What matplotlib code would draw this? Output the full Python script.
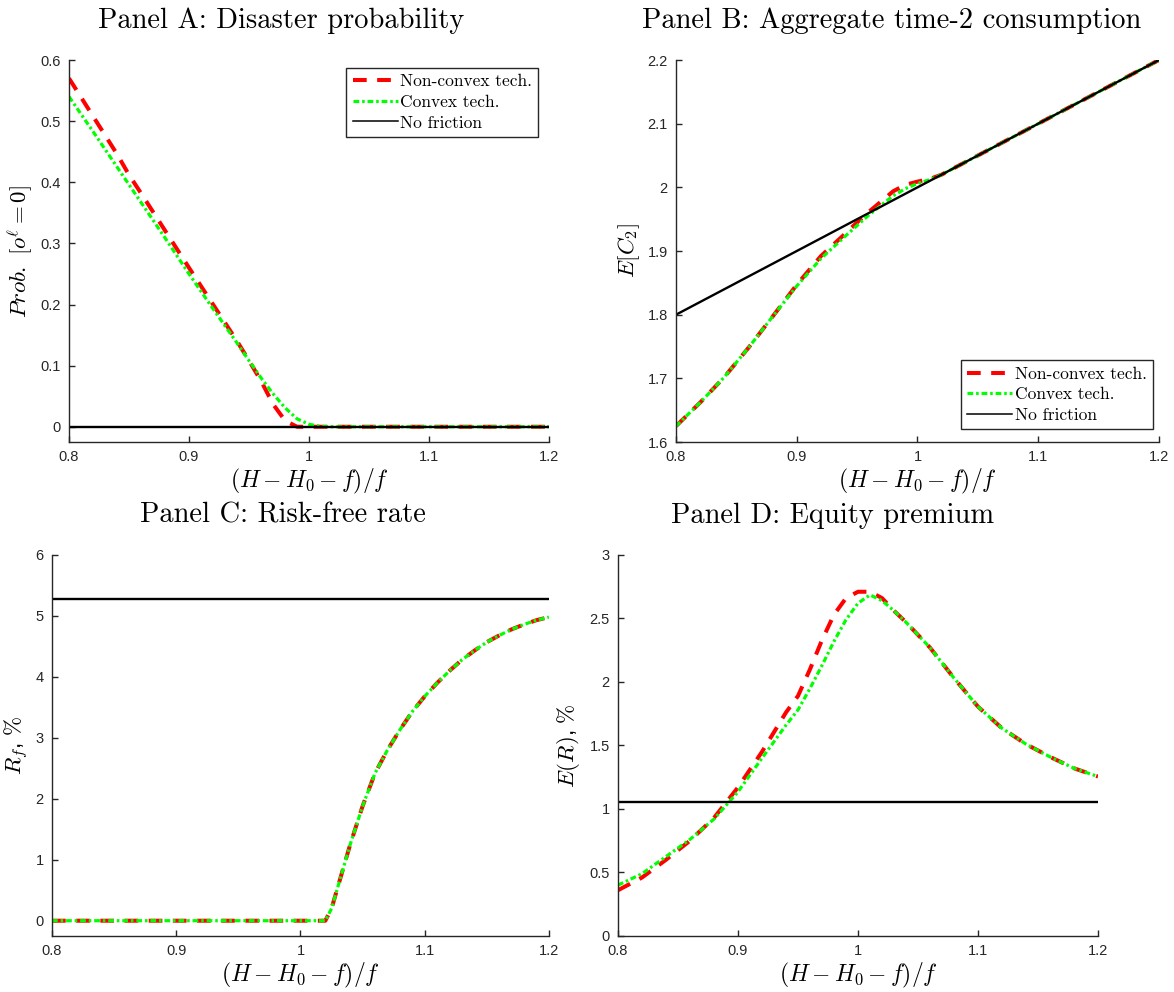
import matplotlib
matplotlib.use("Agg")
import matplotlib.pyplot as plt
from matplotlib.lines import Line2D

plt.rcParams["mathtext.fontset"] = "cm"
plt.rcParams["font.family"] = ["Liberation Sans", "DejaVu Sans"]

# ---------------- data ----------------
# Panel A: disaster probability
xa = [0.80, 0.82, 0.84, 0.85, 0.86, 0.88, 0.90, 0.92, 0.94, 0.95, 0.96, 0.97,
      0.98, 0.99, 1.00, 1.01, 1.02, 1.05, 1.10, 1.15, 1.20]
a_nonconvex = [0.570, 0.508, 0.446, 0.412, 0.382, 0.321, 0.260, 0.200, 0.140,
               0.108, 0.075, 0.037, 0.010, 0.000, 0.000, 0.000, 0.000, 0.000,
               0.000, 0.000, 0.000]
a_convex = [0.540, 0.483, 0.425, 0.396, 0.367, 0.309, 0.250, 0.193, 0.137,
            0.108, 0.080, 0.054, 0.031, 0.013, 0.004, 0.0005, 0.000, 0.000,
            0.000, 0.000, 0.000]
a_nofriction = [0.0] * len(xa)

# Panel B: aggregate time-2 consumption
xb = [0.80, 0.82, 0.84, 0.86, 0.88, 0.90, 0.92, 0.94, 0.95, 0.96, 0.97, 0.98,
      0.99, 1.00, 1.01, 1.02, 1.04, 1.06, 1.08, 1.10, 1.12, 1.14, 1.16, 1.18, 1.20]
b_nonconvex = [1.625, 1.662, 1.702, 1.748, 1.797, 1.847, 1.892, 1.927, 1.945,
               1.962, 1.978, 1.994, 2.004, 2.009, 2.013, 2.020, 2.040, 2.060,
               2.080, 2.100, 2.120, 2.140, 2.160, 2.180, 2.200]
b_convex = [1.625, 1.662, 1.702, 1.748, 1.797, 1.845, 1.888, 1.923, 1.940,
            1.957, 1.972, 1.987, 1.998, 2.006, 2.012, 2.020, 2.040, 2.060,
            2.080, 2.100, 2.120, 2.140, 2.160, 2.180, 2.200]
b_nofriction = [1.80, 1.82, 1.84, 1.86, 1.88, 1.90, 1.92, 1.94, 1.95, 1.96,
                1.97, 1.98, 1.99, 2.00, 2.01, 2.02, 2.04, 2.06, 2.08, 2.10,
                2.12, 2.14, 2.16, 2.18, 2.20]

# Panel C: risk-free rate (%)
xc = [0.80, 0.85, 0.90, 0.95, 1.00, 1.02, 1.025, 1.03, 1.04, 1.05, 1.06, 1.07,
      1.08, 1.09, 1.10, 1.11, 1.12, 1.13, 1.14, 1.15, 1.16, 1.17, 1.18, 1.19, 1.20]
c_nonconvex = [0.0, 0.0, 0.0, 0.0, 0.0, 0.0, 0.20, 0.55, 1.25, 1.88, 2.42,
               2.80, 3.13, 3.43, 3.68, 3.90, 4.10, 4.28, 4.43, 4.57, 4.68,
               4.78, 4.86, 4.93, 4.98]
c_convex = [0.0, 0.0, 0.0, 0.0, 0.0, 0.0, 0.20, 0.55, 1.25, 1.88, 2.42,
            2.80, 3.13, 3.43, 3.68, 3.90, 4.10, 4.28, 4.43, 4.57, 4.68,
            4.78, 4.86, 4.93, 4.98]
c_nofriction = [5.27] * len(xc)

# Panel D: equity premium (%)
xd = [0.80, 0.82, 0.84, 0.86, 0.88, 0.90, 0.92, 0.94, 0.95, 0.96, 0.97, 0.98,
      0.99, 1.00, 1.01, 1.02, 1.03, 1.04, 1.06, 1.08, 1.10, 1.12, 1.14, 1.16,
      1.18, 1.20]
d_nonconvex = [0.36, 0.46, 0.60, 0.75, 0.93, 1.17, 1.45, 1.76, 1.89, 2.10,
               2.33, 2.53, 2.66, 2.71, 2.71, 2.66, 2.56, 2.47, 2.27, 2.03,
               1.805, 1.635, 1.51, 1.41, 1.32, 1.255]
d_convex = [0.40, 0.49, 0.625, 0.76, 0.92, 1.135, 1.40, 1.66, 1.78, 1.95,
            2.13, 2.32, 2.49, 2.62, 2.685, 2.64, 2.56, 2.47, 2.27, 2.03,
            1.805, 1.635, 1.51, 1.41, 1.32, 1.255]
d_nofriction = [1.055] * len(xd)

x_ticks = [0.8, 0.9, 1.0, 1.1, 1.2]
series_names = ["Non-convex tech.", "Convex tech.", "No friction"]

# ---------------- styling ----------------
RED_KW = dict(color=(1, 0, 0), lw=2.9, dashes=(3.4, 2.6), dash_capstyle="butt")
GREEN_KW = dict(color=(0, 1, 0), lw=2.3, dashes=(1.8, 0.9, 0.8, 0.9),
                dash_capstyle="butt")
BLACK_KW = dict(color="black", lw=1.7)
AX_COLOR = "#262626"
TITLE_FONT = dict(family="cmr10", size=20.5)
XLABEL_SIZE = 17
YLABEL_SIZE = 16.5

fig = plt.figure(figsize=(11.74, 9.92), dpi=100)

panels = [
    dict(rect=[0.0588, 0.5544, 0.4089, 0.3851], x=xa,
         ys=(a_nonconvex, a_convex, a_nofriction),
         title="Panel A: Disaster probability", tx=0.442,
         ylabel=r"$Prob.\ [o^{\ell}=0]$", ylx=-0.102,
         ylim=(-0.025, 0.6), yticks=[0, 0.1, 0.2, 0.3, 0.4, 0.5, 0.6],
         legend=dict(bbox=(0.578, 0.969, 0.4, 0.01), loc="upper left")),
    dict(rect=[0.5758, 0.5544, 0.4114, 0.3851], x=xb,
         ys=(b_nonconvex, b_convex, b_nofriction),
         title="Panel B: Aggregate time-2 consumption", tx=0.447,
         ylabel=r"$E[C_2]$", ylx=-0.097,
         ylim=(1.6, 2.2), yticks=[1.6, 1.7, 1.8, 1.9, 2.0, 2.1, 2.2],
         legend=dict(bbox=(0.590, 0.034, 0.4, 0.2), loc="lower left")),
    dict(rect=[0.0443, 0.0565, 0.4233, 0.3841], x=xc,
         ys=(c_nonconvex, c_convex, c_nofriction),
         title="Panel C: Risk-free rate", tx=0.465,
         ylabel=r"$R_f$, $\%$", ylx=-0.070,
         ylim=(-0.25, 6), yticks=[0, 1, 2, 3, 4, 5, 6], legend=None),
    dict(rect=[0.5264, 0.0565, 0.4089, 0.3841], x=xd,
         ys=(d_nonconvex, d_convex, d_nofriction),
         title="Panel D: Equity premium", tx=0.448,
         ylabel=r"$E(R)$, $\%$", ylx=-0.104,
         ylim=(0, 3), yticks=[0, 0.5, 1, 1.5, 2, 2.5, 3], legend=None),
]


def fmt(v):
    return f"{v:g}"


for p in panels:
    ax = fig.add_axes(p["rect"])
    y_nc, y_c, y_nf = p["ys"]
    ax.plot(p["x"], y_nc, **RED_KW)
    ax.plot(p["x"], y_c, **GREEN_KW)
    ax.plot(p["x"], y_nf, **BLACK_KW)

    ax.set_xlim(0.8, 1.2)
    ax.set_ylim(*p["ylim"])
    ax.set_xticks(x_ticks)
    ax.set_xticklabels([fmt(v) for v in x_ticks])
    ax.set_yticks(p["yticks"])
    ax.set_yticklabels([fmt(v) for v in p["yticks"]])

    for side in ("top", "right"):
        ax.spines[side].set_visible(False)
    for side in ("left", "bottom"):
        ax.spines[side].set_color(AX_COLOR)
        ax.spines[side].set_linewidth(1.0)
    ax.tick_params(direction="in", length=4, width=1.0, colors=AX_COLOR,
                   labelsize=10.5, pad=6)

    ax.set_title(p["title"], x=p["tx"], pad=23, **TITLE_FONT)
    ax.set_xlabel(r"$(H-H_0-f)/f$", fontsize=XLABEL_SIZE, va="center")
    ax.xaxis.set_label_coords(0.5, -0.104)
    ax.set_ylabel(p["ylabel"], fontsize=YLABEL_SIZE, va="center")
    ax.yaxis.set_label_coords(p["ylx"], 0.5)

    if p["legend"] is not None:
        handles = [Line2D([], [], **RED_KW),
                   Line2D([], [], **GREEN_KW),
                   Line2D([], [], color="black", lw=1.1)]
        leg = ax.legend(handles, series_names, loc=p["legend"]["loc"],
                        bbox_to_anchor=p["legend"]["bbox"],
                        prop=dict(family="cmr10", size=12.5),
                        frameon=True, fancybox=False, framealpha=1,
                        edgecolor=AX_COLOR, handlelength=2.6,
                        handletextpad=0.15, borderpad=0.35,
                        labelspacing=0.3, borderaxespad=0)
        leg.get_frame().set_linewidth(1.0)

fig.savefig("out.png", dpi=100)
